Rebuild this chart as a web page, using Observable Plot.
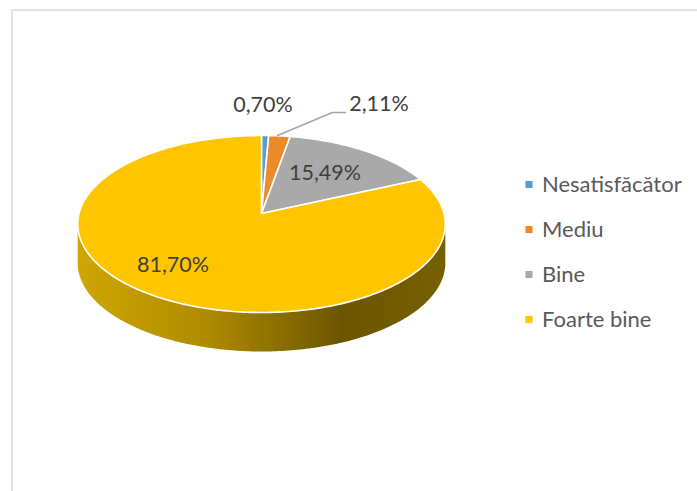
<!DOCTYPE html>
<html>
<head>
<meta charset="utf-8">
<script src="https://cdn.jsdelivr.net/npm/d3@7"></script>
<script src="https://cdn.jsdelivr.net/npm/@observablehq/plot@0.6"></script>
<style>html,body{margin:0;padding:0;background:#fff}svg{display:block}</style>
</head>
<body>
<script>
const categories = ["Nesatisfăcător", "Mediu", "Bine", "Foarte bine"];
const values = [0.70, 2.11, 15.49, 81.70];
const valueLabels = ["0,70%", "2,11%", "15,49%", "81,70%"];
const colors = ["#5B9BD5", "#ED8A2A", "#A9A9A9", "#FFC600"];

// page layout, in pixels
const W = 697, H = 491;
const apex = {x: 261, y: 213};
const tilt = {a: 182.5, b: 87.25, c: 0.1186, depth: 39};
const labelAt = [[262.5, 105], [378.5, 104], [324.5, 173], [172.5, 265]];
const legendAt = {sx: 528.5, tx: 541.5, ys: [184, 229, 274, 319]};
const leader = [[277, 135], [332, 112], [345, 112]];

// a point on the pie disc, seen in perspective (theta clockwise from the top)
function project(theta, dy = 0) {
  const u = Math.sin(theta), v = Math.cos(theta), d = 1 + tilt.c * v;
  return {x: apex.x + tilt.a * u / d, y: apex.y - tilt.b * v / d + dy};
}

const total = d3.sum(values);
let acc = 0;
const slicePts = [];
categories.forEach((name, i) => {
  const a0 = acc / total * 2 * Math.PI;
  acc += values[i];
  const a1 = acc / total * 2 * Math.PI;
  slicePts.push({name, ...apex});
  const n = Math.max(2, Math.ceil((a1 - a0) * 60));
  for (let k = 0; k <= n; k++) slicePts.push({name, ...project(a0 + (a1 - a0) * k / n)});
});

// front wall, from the right silhouette round the front to the left one
const t0 = Math.acos(-tilt.c), t1 = 2 * Math.PI - t0;
const wallThetas = d3.range(0, 201).map(k => t0 + (t1 - t0) * k / 200);
const wallPts = [
  ...wallThetas.map(t => project(t)),
  ...wallThetas.slice().reverse().map(t => project(t, tilt.depth))
];

const labels = valueLabels.map((text, i) => ({text, x: labelAt[i][0], y: labelAt[i][1]}));
const legend = categories.map((name, i) => ({name, y: legendAt.ys[i]}));
const leaderPts = leader.map(([x, y]) => ({x, y}));

const wallGradient = () => {
  const defs = d3.create("svg:defs");
  const g = defs.append("linearGradient").attr("id", "wallFill");
  [[0, "#CFA600"], [0.35, "#AF8B00"], [0.72, "#6B5500"], [1, "#766000"]].forEach(([o, c]) =>
    g.append("stop").attr("offset", o).attr("stop-color", c));
  return defs.node();
};

const chart = Plot.plot({
  width: W, height: H, margin: 0,
  x: {domain: [0, W], range: [0, W], axis: null},
  y: {domain: [0, H], range: [0, H], axis: null},
  color: {domain: categories, range: colors},
  style: {fontFamily: "Lato, 'Open Sans', sans-serif", background: "#fff"},
  marks: [
    wallGradient,
    Plot.line([{x: 11.5, y: H}, {x: 11.5, y: 9.5}, {x: W, y: 9.5}], {x: "x", y: "y", stroke: "#E2E2E2", strokeWidth: 2, strokeLinejoin: "miter"}),
    Plot.line(wallPts, {x: "x", y: "y", fill: "url(#wallFill)", stroke: "none", curve: "linear-closed"}),
    Plot.line(slicePts, {x: "x", y: "y", z: "name", fill: "name", stroke: "#fff", strokeWidth: 1.6, curve: "linear-closed", strokeLinejoin: "round"}),
    Plot.line(leaderPts, {x: "x", y: "y", stroke: "#A6A6A6", strokeWidth: 1.5}),
    Plot.text(labels, {x: "x", y: "y", text: "text", fontSize: 21.5, fill: "#404040", textAnchor: "middle"}),
    Plot.dot(legend, {x: legendAt.sx, y: "y", fill: "name", symbol: "square", r: 4, stroke: "none"}),
    Plot.text(legend, {x: legendAt.tx, y: "y", text: "name", fontSize: 22, fill: "#595959", textAnchor: "start"})
  ]
});
document.body.appendChild(chart);
</script>
</body>
</html>
